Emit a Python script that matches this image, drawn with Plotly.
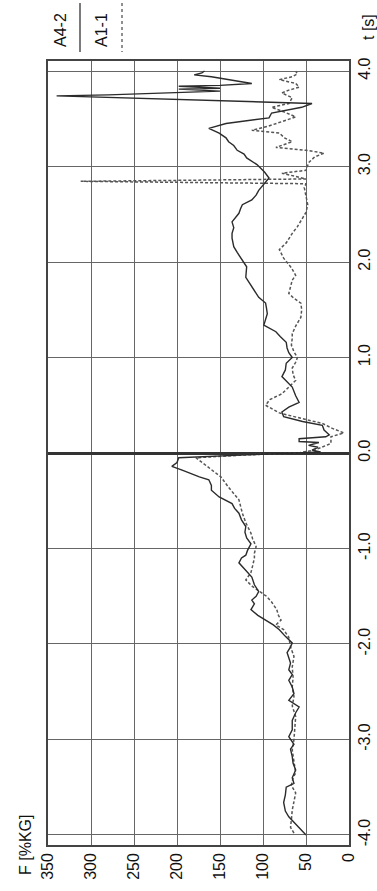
import plotly.graph_objects as go

# ---- data (time in s, force in %KG) ----
t_a42 = [-4.00, -3.95, -3.92, -3.87, -3.81, -3.75, -3.66, -3.58, -3.50, -3.46, -3.40, -3.32,
         -3.25, -3.18, -3.10, -3.05, -2.97, -2.90, -2.80, -2.72, -2.66, -2.59, -2.52, -2.45,
         -2.38, -2.32, -2.27, -2.20, -2.09, -2.03, -1.99, -1.92, -1.85, -1.80, -1.75, -1.70,
         -1.64, -1.58, -1.54, -1.50, -1.45, -1.38, -1.30, -1.25, -1.20, -1.15, -1.10, -1.07,
         -1.02, -0.95, -0.89, -0.83, -0.77, -0.70, -0.63, -0.58, -0.53, -0.46, -0.39, -0.34,
         -0.28, -0.25, -0.18, -0.14, -0.10, -0.05, -0.02, 0.00, 0.01, 0.03, 0.06, 0.08,
         0.11, 0.12, 0.15, 0.17, 0.19, 0.24, 0.29, 0.33, 0.38, 0.43, 0.48, 0.53,
         0.60, 0.69, 0.75, 0.80, 0.87, 0.94, 1.00, 1.05, 1.10, 1.16, 1.22, 1.27,
         1.34, 1.40, 1.46, 1.52, 1.57, 1.63, 1.70, 1.78, 1.84, 1.95, 2.04, 2.10,
         2.16, 2.25, 2.30, 2.36, 2.42, 2.51, 2.56, 2.60, 2.65, 2.70, 2.75, 2.84,
         2.88, 2.94, 3.02, 3.09, 3.13, 3.17, 3.22, 3.26, 3.30, 3.35, 3.40, 3.45,
         3.51, 3.56, 3.59, 3.62, 3.66, 3.69, 3.72, 3.74, 3.75, 3.77, 3.79, 3.81,
         3.82, 3.84, 3.85, 3.87, 3.91, 3.94, 3.96, 3.98, 4.00]
f_a42 = [50, 55, 58, 64, 70, 74, 76, 74, 73, 64, 66, 62,
         65, 66, 68, 64, 70, 66, 66, 62, 58, 70, 64, 66,
         70, 66, 70, 68, 72, 68, 66, 74, 81, 88, 97, 106,
         114, 110, 113, 108, 105, 110, 113, 118, 124, 128, 125, 120,
         118, 114, 119, 121, 120, 125, 128, 133, 136, 151, 160, 160,
         163, 174, 194, 206, 200, 198, 120, 43, 33, 43, 36, 47,
         35, 58, 58, 27, 23, 29, 31, 54, 76, 78, 70, 58,
         62, 66, 72, 78, 74, 73, 66, 70, 72, 73, 80, 85,
         99, 97, 95, 96, 97, 105, 110, 116, 120, 119, 126, 130,
         134, 136, 136, 134, 136, 128, 126, 124, 113, 108, 105, 97,
         93, 98, 107, 119, 122, 130, 134, 140, 143, 151, 163, 143,
         93, 90, 70, 55, 43, 150, 250, 340, 280, 200, 150, 198,
         150, 198, 150, 113, 140, 160, 180, 171, 168]

t_a11 = [-3.98, -3.92, -3.84, -3.74, -3.65, -3.56, -3.48, -3.40, -3.35, -3.25, -3.11, -3.00,
         -2.90, -2.76, -2.65, -2.55, -2.45, -2.35, -2.24, -2.13, -2.03, -1.93, -1.85, -1.80,
         -1.75, -1.70, -1.64, -1.56, -1.50, -1.47, -1.40, -1.33, -1.25, -1.18, -1.10, -1.05,
         -0.98, -0.90, -0.84, -0.73, -0.63, -0.49, -0.36, -0.25, -0.18, -0.09, -0.05, -0.02,
         0.00, 0.03, 0.06, 0.10, 0.17, 0.21, 0.26, 0.31, 0.35, 0.42, 0.50, 0.56,
         0.62, 0.69, 0.76, 0.82, 0.89, 0.95, 1.00, 1.06, 1.13, 1.20, 1.25, 1.33,
         1.42, 1.50, 1.57, 1.62, 1.67, 1.74, 1.81, 1.86, 1.94, 2.04, 2.13, 2.20,
         2.30, 2.37, 2.44, 2.52, 2.60, 2.65, 2.72, 2.78, 2.82, 2.835, 2.845, 2.855,
         2.87, 2.93, 2.96, 3.04, 3.10, 3.14, 3.17, 3.20, 3.26, 3.30, 3.35, 3.38,
         3.42, 3.47, 3.52, 3.57, 3.62, 3.66, 3.72, 3.77, 3.80, 3.83, 3.87, 3.91,
         3.94, 3.97, 4.00]
f_a11 = [64, 68, 67, 66, 64, 62, 67, 65, 62, 64, 66, 64,
         63, 62, 66, 64, 66, 65, 66, 64, 68, 70, 76, 85,
         79, 82, 84, 90, 96, 101, 112, 120, 114, 112, 110, 110,
         108, 112, 114, 120, 124, 128, 140, 149, 159, 171, 178, 120,
         60, 40, 31, 21, 21, 6, 20, 31, 50, 81, 97, 92,
         78, 70, 62, 65, 66, 62, 60, 64, 67, 66, 66, 62,
         56, 55, 56, 64, 70, 68, 66, 62, 67, 76, 81, 73,
         66, 60, 55, 50, 48, 49, 50, 52, 50, 200, 312, 200,
         50, 78, 50, 47, 40, 29, 50, 85, 66, 75, 81, 113,
         95, 78, 62, 75, 90, 70, 66, 78, 70, 58, 62, 81,
         66, 60, 62]

f_ticks = [0, 50, 100, 150, 200, 250, 300, 350]
t_ticks = [-4, -3, -2, -1, 0, 1, 2, 3, 4]
t_ticktext = ["-4.0", "-3.0", "-2.0", "-1.0", "0.0", "1.0", "2.0", "3.0", "4.0"]

W, H = 377, 891
L, R, T, B = 48, 349, 61, 845


def px(x):
    return (x - L) / (R - L)


def py(y):
    return (B - y) / (B - T)


FONT = "Liberation Sans, Arial, sans-serif"
INK = "#111111"
GRID = "#666666"
FS = 16

fig = go.Figure()
fig.add_trace(go.Scatter(x=f_a11, y=t_a11, mode="lines", name="A1-1",
                         line=dict(color="#555555", width=1.5, dash="3px,2px")))
fig.add_trace(go.Scatter(x=f_a42, y=t_a42, mode="lines", name="A4-2",
                         line=dict(color="#2b2b2b", width=1.4)))

fig.update_layout(
    width=W, height=H,
    margin=dict(l=L, r=W - R, t=T, b=H - B, autoexpand=False),
    paper_bgcolor="white", plot_bgcolor="white",
    showlegend=False,
    font=dict(family=FONT, size=FS, color=INK),
    xaxis=dict(range=[350, 0], tickvals=f_ticks, showgrid=True, gridcolor=GRID,
               gridwidth=1, zeroline=False, showline=True, mirror=True,
               linecolor="#444444", linewidth=1.5, tickangle=-90, ticks="",
               automargin=False, tickfont=dict(size=FS, color=INK)),
    yaxis=dict(range=[-4.105, 4.105], tickvals=t_ticks, ticktext=t_ticktext,
               side="right", showgrid=True, gridcolor=GRID, gridwidth=1,
               zeroline=True, zerolinecolor="#333333", zerolinewidth=2.5,
               showline=True, mirror=True, linecolor="#444444", linewidth=1.5,
               tickangle=-90, ticks="", automargin=False,
               tickfont=dict(size=FS, color=INK)),
)

ann = [
    dict(text="F [%KG]", x=px(25), y=py(845)),
    dict(text="t [s]", x=px(368), y=py(27)),
    dict(text="A4-2", x=px(60), y=py(30)),
    dict(text="A1-1", x=px(101), y=py(30)),
]
for a in ann:
    fig.add_annotation(text=a["text"], x=a["x"], y=a["y"], xref="paper", yref="paper",
                       textangle=-90, showarrow=False, xanchor="center", yanchor="middle",
                       font=dict(family=FONT, size=FS, color=INK))

fig.add_shape(type="line", xref="paper", yref="paper", x0=px(80), x1=px(80),
              y0=py(3), y1=py(52), line=dict(color="#333333", width=1.3))
fig.add_shape(type="line", xref="paper", yref="paper", x0=px(122), x1=px(122),
              y0=py(3), y1=py(52), line=dict(color="#555555", width=1.3, dash="dot"))

fig.write_html("out.html", config={"displayModeBar": False},
               post_script="document.body.style.margin='0';document.body.style.overflow='hidden';")
